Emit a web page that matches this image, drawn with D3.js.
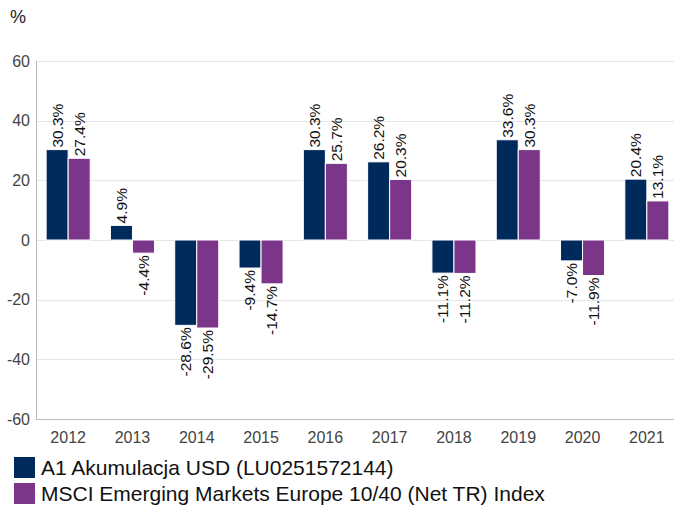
<!DOCTYPE html>
<html>
<head>
<meta charset="utf-8">
<script src="https://cdn.jsdelivr.net/npm/d3@7"></script>
<style>
  body { margin: 0; background: #fff; }
  svg { display: block; font-family: "Liberation Sans", Arial, sans-serif; }
</style>
</head>
<body>
<div id="chart"></div>
<script>
const years = ["2012", "2013", "2014", "2015", "2016", "2017", "2018", "2019", "2020", "2021"]
const fund = [30.3, 4.9, -28.6, -9.4, 30.3, 26.2, -11.1, 33.6, -7.0, 20.4]
const index = [27.4, -4.4, -29.5, -14.7, 25.7, 20.3, -11.2, 30.3, -11.9, 13.1]
const seriesNames = ["A1 Akumulacja USD (LU0251572144)", "MSCI Emerging Markets Europe 10/40 (Net TR) Index"]
const seriesColors = ["#002a5c", "#7b3589"]
const yTicks = [-60, -40, -20, 0, 20, 40, 60]

const width = 674, height = 506
const margin = { top: 61, bottom: 87, left: 36, right: -5 }

const svg = d3.select("#chart").append("svg")
    .attr("width", width)
    .attr("height", height)

const x = d3.scaleBand()
    .domain(years)
    .range([margin.left, width - margin.right])
    .paddingInner(0.315)
    .paddingOuter(0.1575)

const x1 = d3.scaleBand()
    .domain([0, 1])
    .range([0, x.bandwidth()])

const y = d3.scaleLinear()
    .domain([-60, 60])
    .range([height - margin.bottom, margin.top])

// gridlines
svg.append("g")
    .selectAll("line")
    .data(yTicks)
    .join("line")
    .attr("x1", margin.left)
    .attr("x2", width)
    .attr("y1", d => Math.round(y(d)) + 0.5)
    .attr("y2", d => Math.round(y(d)) + 0.5)
    .attr("stroke", "#e6e6e6")

// y tick labels
svg.append("g")
    .selectAll("text")
    .data(yTicks)
    .join("text")
    .attr("x", 30)
    .attr("y", d => y(d))
    .attr("dy", "0.35em")
    .attr("text-anchor", "end")
    .attr("font-size", 16)
    .attr("fill", "#444")
    .text(d => d)

svg.append("text")
    .attr("x", 10)
    .attr("y", 23)
    .attr("font-size", 18)
    .attr("fill", "#222")
    .text("%")

// axis lines
svg.append("line")
    .attr("x1", margin.left + 0.5).attr("x2", margin.left + 0.5)
    .attr("y1", y(60)).attr("y2", y(-60))
    .attr("stroke", "#bbb")
svg.append("line")
    .attr("x1", margin.left).attr("x2", width)
    .attr("y1", Math.round(y(-60)) + 0.5).attr("y2", Math.round(y(-60)) + 0.5)
    .attr("stroke", "#bbb")

// x labels
svg.append("g")
    .selectAll("text")
    .data(years)
    .join("text")
    .attr("x", d => x(d) + x.bandwidth() / 2)
    .attr("y", y(-60) + 24)
    .attr("text-anchor", "middle")
    .attr("font-size", 16)
    .attr("fill", "#444")
    .text(d => d)

const rows = []
years.forEach((yr, i) => {
    rows.push({ year: yr, s: 0, v: fund[i] })
    rows.push({ year: yr, s: 1, v: index[i] })
})

// bars
svg.append("g")
    .selectAll("rect")
    .data(rows)
    .join("rect")
    .attr("x", d => x(d.year) + x1(d.s))
    .attr("width", x1.bandwidth())
    .attr("y", d => y(Math.max(0, d.v)))
    .attr("height", d => Math.abs(y(d.v) - y(0)))
    .attr("fill", d => seriesColors[d.s])
    .attr("stroke", "#fff")
    .attr("stroke-width", 1)

// value labels
svg.append("g")
    .selectAll("text")
    .data(rows)
    .join("text")
    .attr("transform", d => {
        const cx = x(d.year) + x1(d.s) + x1.bandwidth() / 2
        const cy = d.v >= 0 ? y(d.v) - 2 : y(d.v) + 2
        return `translate(${cx},${cy}) rotate(-90)`
    })
    .attr("text-anchor", d => d.v >= 0 ? "start" : "end")
    .attr("dy", "0.35em")
    .attr("font-size", 15.5)
    .attr("fill", "#111")
    .text(d => d.v.toFixed(1) + "%")

// legend
const legend = svg.append("g")
    .selectAll("g")
    .data(seriesNames)
    .join("g")
    .attr("transform", (d, i) => `translate(14,${457 + i * 26})`)

legend.append("rect")
    .attr("width", 21)
    .attr("height", 21)
    .attr("fill", (d, i) => seriesColors[i])

legend.append("text")
    .attr("x", 27)
    .attr("y", 11)
    .attr("dy", "0.35em")
    .attr("font-size", 21)
    .attr("fill", "#111")
    .text(d => d)
</script>
</body>
</html>
